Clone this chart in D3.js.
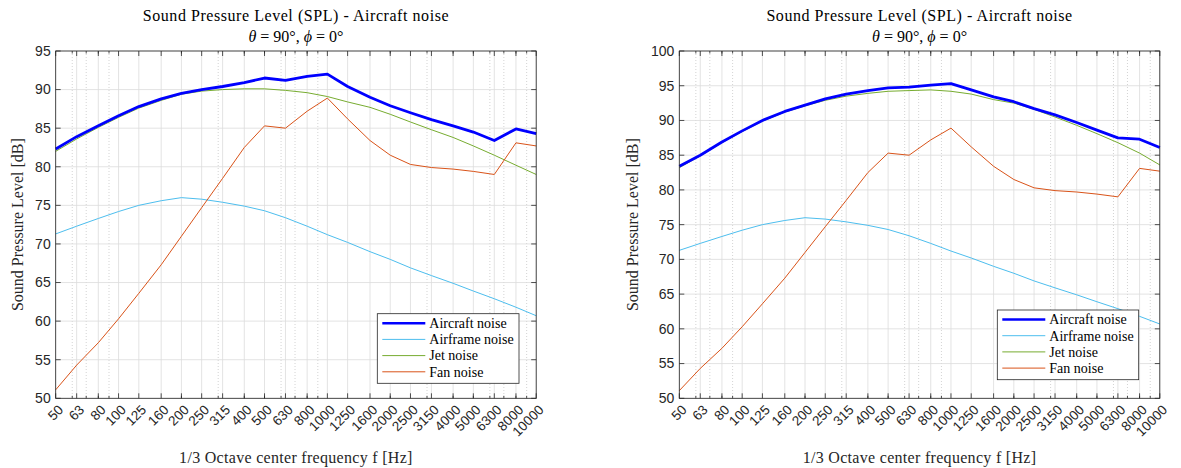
<!DOCTYPE html>
<html>
<head>
<meta charset="utf-8">
<script src="https://cdn.jsdelivr.net/npm/d3@7"></script>
<style>
  body { margin: 0; background: #fff; }
  svg { display: block; }
</style>
</head>
<body>
<svg id="graphArea" width="1181" height="468"></svg>
<script>

// 1/3 オクターブ中心周波数
const freqs = [50, 63, 80, 100, 125, 160, 200, 250, 315, 400, 500, 630,
  800, 1000, 1250, 1600, 2000, 2500, 3150, 4000, 5000, 6300, 8000, 10000];
const tickLabels = freqs.map(String);

// 機体騒音（両グラフ共通）
const airframe = [71.3, 72.3, 73.3, 74.2, 75.0, 75.6, 76.0, 75.8, 75.4, 74.9, 74.3, 73.4,
  72.3, 71.2, 70.2, 69.0, 68.0, 66.9, 65.9, 64.9, 63.9, 62.9, 61.8, 60.7];

// ファン騒音（両グラフ共通）
const fan = [51.1, 54.3, 57.2, 60.3, 63.6, 67.3, 71.0, 74.7, 78.5, 82.5, 85.3, 85.0,
  87.2, 88.9, 86.2, 83.4, 81.5, 80.3, 79.9, 79.7, 79.4, 79.0, 83.1, 82.7];

// ジェット騒音
const jetLeft = [82.0, 83.6, 85.1, 86.4, 87.6, 88.6, 89.4, 89.8, 90.0, 90.1, 90.1, 89.9,
  89.6, 89.1, 88.4, 87.7, 86.8, 85.8, 84.8, 83.8, 82.7, 81.5, 80.2, 79.0];
const jetRight = [83.2, 84.9, 86.8, 88.4, 89.9, 91.2, 92.1, 92.9, 93.5, 93.9, 94.2, 94.3,
  94.4, 94.2, 93.8, 93.0, 92.5, 91.6, 90.5, 89.3, 88.1, 86.8, 85.3, 83.6];

// 航空機騒音（合計）
const aircraftLeft = [82.3, 83.9, 85.3, 86.6, 87.8, 88.8, 89.5, 90.0, 90.4, 90.9, 91.5, 91.2,
  91.7, 92.0, 90.4, 89.0, 87.9, 87.0, 86.1, 85.3, 84.5, 83.4, 84.9, 84.3];
const aircraftRight = [83.4, 85.0, 86.9, 88.5, 90.0, 91.3, 92.2, 93.1, 93.8, 94.3, 94.7, 94.8,
  95.1, 95.3, 94.4, 93.4, 92.7, 91.7, 90.8, 89.7, 88.6, 87.5, 87.3, 86.1];

const seriesNames = ["Aircraft noise", "Airframe noise", "Jet noise", "Fan noise"];
const seriesColors = ["#0000ff", "#4dbeee", "#77ac30", "#d95319"];
const seriesWidths = [2.8, 1, 1, 1];

const yTicksLeft = [50, 55, 60, 65, 70, 75, 80, 85, 90, 95];
const yTicksRight = [50, 55, 60, 65, 70, 75, 80, 85, 90, 95, 100];

const titleText = "Sound Pressure Level (SPL) - Aircraft noise";
const xLabelText = "1/3 Octave center frequency f [Hz]";
const yLabelText = "Sound Pressure Level [dB]";

const serif = "'Liberation Serif', 'DejaVu Serif', serif";
const sans = "'Liberation Sans', Arial, sans-serif";
const axisColor = "#262626";


/* 1つのグラフを描画するクラス */
class Panel {

  constructor(svgId, left, yTicks, series, legendBox, yLabelGap) {
    this.svg = d3.select(`#${svgId}`);
    this.left = left;
    this.top = 51;
    this.w = 480.5;
    this.h = 347.3;
    this.yTicks = yTicks;
    this.series = series;
    this.legendBox = legendBox;
    this.yLabelGap = yLabelGap;
  }

  draw() {
    let g = this.svg.append("g")
      .attr("transform", `translate(${this.left},${this.top})`);
    let w = this.w, h = this.h;

    // スケール
    let x = d3.scaleLog().domain([50, 10000]).range([0, w]);
    let y = d3.scaleLinear().domain(d3.extent(this.yTicks)).range([h, 0]);

    // 補助目盛（対数の 2..9 倍）
    let minor = [];
    [10, 100, 1000].forEach(d => {
      for (let k = 2; k <= 9; k++) {
        let v = k * d;
        if (v > 50 && v < 10000) minor.push(v);
      }
    });
    let minorGrid = minor.filter(v => !freqs.includes(v));

    // グリッド線
    g.append("g").selectAll("line")
      .data(minorGrid)
      .enter().append("line")
      .attr("x1", d => x(d)).attr("x2", d => x(d))
      .attr("y1", 0).attr("y2", h)
      .attr("stroke", "#c8c8c8")
      .attr("stroke-width", 0.8)
      .attr("stroke-dasharray", "1,2");

    g.append("g").selectAll("line")
      .data(freqs)
      .enter().append("line")
      .attr("x1", d => x(d)).attr("x2", d => x(d))
      .attr("y1", 0).attr("y2", h)
      .attr("stroke", "#dcdcdc")
      .attr("stroke-width", 0.8);

    g.append("g").selectAll("line")
      .data(this.yTicks)
      .enter().append("line")
      .attr("x1", 0).attr("x2", w)
      .attr("y1", d => y(d)).attr("y2", d => y(d))
      .attr("stroke", "#dcdcdc")
      .attr("stroke-width", 0.8);

    // 系列の折れ線
    let line = d3.line()
      .x((d, i) => x(freqs[i]))
      .y(d => y(d));
    // 描画順：合計を最後に
    let order = [1, 2, 3, 0];
    order.forEach(i => {
      g.append("path")
        .datum(this.series[i])
        .attr("d", line)
        .attr("fill", "none")
        .attr("stroke", seriesColors[i])
        .attr("stroke-width", seriesWidths[i])
        .attr("stroke-linejoin", "round");
    });

    // 軸（目盛は内向き）
    let tickLen = 5;
    let axG = g.append("g").attr("stroke", axisColor).attr("stroke-width", 0.8);
    freqs.forEach(f => {
      axG.append("line").attr("x1", x(f)).attr("x2", x(f)).attr("y1", h).attr("y2", h - tickLen);
      axG.append("line").attr("x1", x(f)).attr("x2", x(f)).attr("y1", 0).attr("y2", tickLen);
    });
    minor.forEach(f => {
      axG.append("line").attr("x1", x(f)).attr("x2", x(f)).attr("y1", h).attr("y2", h - 2.5);
      axG.append("line").attr("x1", x(f)).attr("x2", x(f)).attr("y1", 0).attr("y2", 2.5);
    });
    this.yTicks.forEach(v => {
      axG.append("line").attr("x1", 0).attr("x2", tickLen).attr("y1", y(v)).attr("y2", y(v));
      axG.append("line").attr("x1", w).attr("x2", w - tickLen).attr("y1", y(v)).attr("y2", y(v));
    });
    axG.append("rect")
      .attr("width", w).attr("height", h)
      .attr("fill", "none");

    // 目盛ラベル
    g.append("g").selectAll("text")
      .data(this.yTicks)
      .enter().append("text")
      .text(d => d)
      .attr("x", -5)
      .attr("y", d => y(d))
      .attr("dy", "0.35em")
      .attr("text-anchor", "end")
      .attr("font-family", sans)
      .attr("font-size", "14px")
      .attr("fill", axisColor);

    g.append("g").selectAll("text")
      .data(freqs)
      .enter().append("text")
      .text((d, i) => tickLabels[i])
      .attr("transform", d => `translate(${x(d) + 5},${h + 9}) rotate(-45)`)
      .attr("dy", "0.35em")
      .attr("text-anchor", "end")
      .attr("font-family", sans)
      .attr("font-size", "13.5px")
      .attr("fill", axisColor);

    // タイトル
    g.append("text")
      .attr("x", w / 2).attr("y", -30.5)
      .attr("text-anchor", "middle")
      .attr("font-family", serif)
      .attr("font-size", "16px")
      .attr("letter-spacing", "0.55px")
      .attr("fill", "#000")
      .text(titleText);

    let sub = g.append("text")
      .attr("x", w / 2).attr("y", -9.5)
      .attr("text-anchor", "middle")
      .attr("font-family", serif)
      .attr("font-size", "16px")
      .attr("fill", "#000");
    sub.append("tspan").attr("font-style", "italic").text("θ");
    sub.append("tspan").attr("dx", 4).text("=");
    sub.append("tspan").attr("dx", 4).text("90°,");
    sub.append("tspan").attr("dx", 4).attr("font-style", "italic").text("ϕ");
    sub.append("tspan").attr("dx", 4).text("=");
    sub.append("tspan").attr("dx", 4).text("0°");

    // 軸ラベル
    g.append("text")
      .attr("x", w / 2).attr("y", h + 65)
      .attr("text-anchor", "middle")
      .attr("font-family", serif)
      .attr("font-size", "16px")
      .attr("letter-spacing", "0.3px")
      .attr("fill", axisColor)
      .text(xLabelText);

    g.append("text")
      .attr("transform", `translate(${-this.yLabelGap},${h / 2}) rotate(-90)`)
      .attr("text-anchor", "middle")
      .attr("dy", "0.35em")
      .attr("font-family", serif)
      .attr("font-size", "16px")
      .attr("fill", axisColor)
      .text(yLabelText);

    // レジェンド
    let [lx, ly, lw, lh] = this.legendBox;
    let lg = g.append("g")
      .attr("class", "legend")
      .attr("transform", `translate(${lx - this.left},${ly - this.top})`);
    lg.append("rect")
      .attr("width", lw).attr("height", lh)
      .attr("fill", "#fff")
      .attr("stroke", axisColor)
      .attr("stroke-width", 0.8);
    let rowH = 16.2;
    seriesNames.forEach((name, i) => {
      let cy = 9.5 + rowH * i;
      lg.append("line")
        .attr("x1", 5).attr("x2", 48)
        .attr("y1", cy).attr("y2", cy)
        .attr("stroke", seriesColors[i])
        .attr("stroke-width", seriesWidths[i] === 1 ? 1 : 2.6);
      lg.append("text")
        .attr("x", 52).attr("y", cy)
        .attr("dy", "0.35em")
        .attr("font-family", serif)
        .attr("font-size", "14px")
        .attr("fill", "#000")
        .text(name);
    });
  }

}

let leftPanel = new Panel("graphArea", 55.7, yTicksLeft,
  [aircraftLeft, airframe, jetLeft, fan], [377.3, 313.7, 141.7, 69.6], 38.7);
leftPanel.draw();

let rightPanel = new Panel("graphArea", 679.3, yTicksRight,
  [aircraftRight, airframe, jetRight, fan], [997.3, 310, 141.4, 69.7], 47);
rightPanel.draw();

</script>
</body>
</html>
